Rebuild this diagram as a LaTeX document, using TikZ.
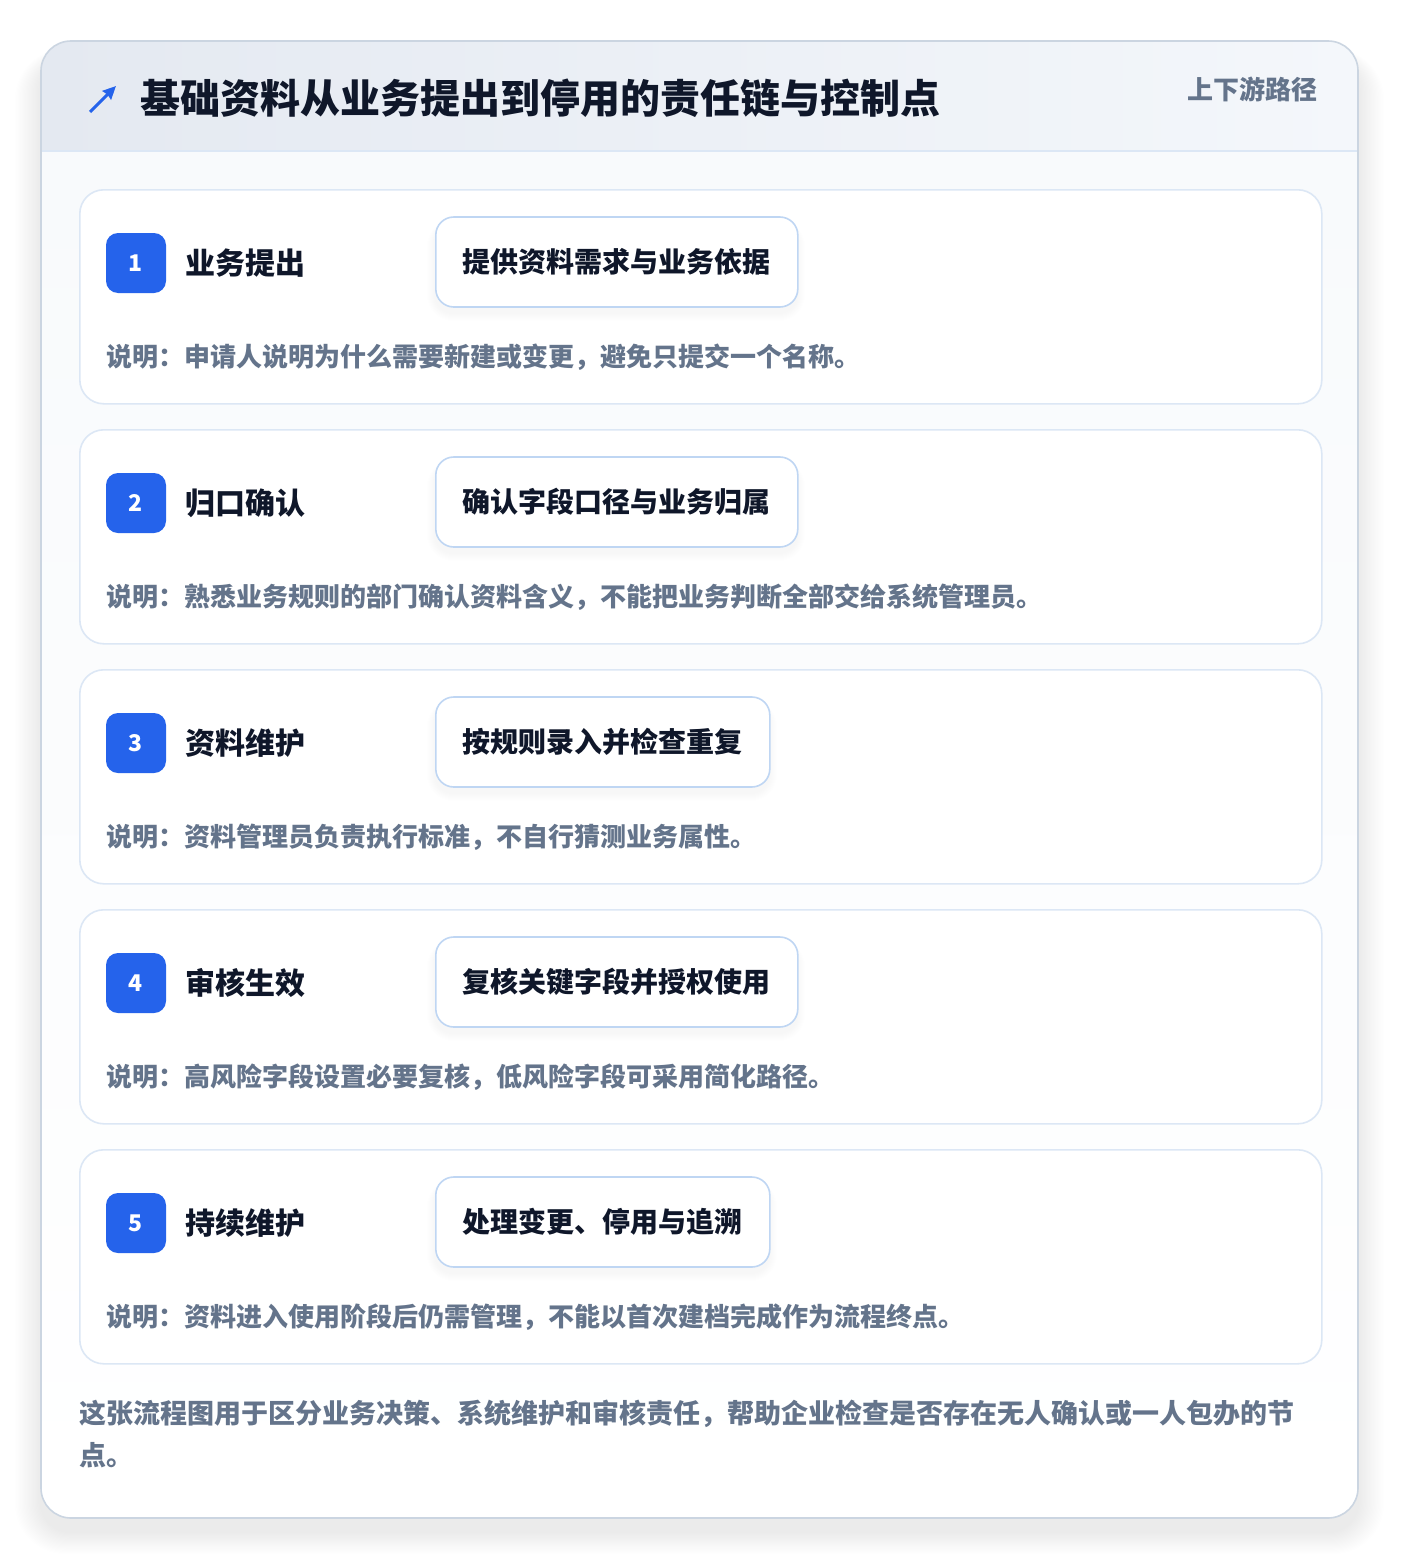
\documentclass[tikz,border=0pt]{standalone}
\usepackage{fontspec}
\setmainfont{Noto Sans CJK SC}
\usetikzlibrary{arrows.meta}
\definecolor{brand}{HTML}{2563EB}
\definecolor{ink}{HTML}{0F172A}
\definecolor{slate}{HTML}{64748B}
\definecolor{cardline}{HTML}{DCE7F5}
\definecolor{pillline}{HTML}{BFD6F3}
\definecolor{outline}{HTML}{CBD5E1}
\definecolor{bandL}{HTML}{E4E9F1}
\definecolor{bandR}{HTML}{F4F7FB}
\definecolor{bodyfill}{HTML}{F8FAFC}
\tikzset{
  card/.style={draw=cardline, line width=1.6pt, fill=white, rounded corners=24pt, inner sep=0pt},
  badge/.style={fill=brand, rounded corners=12pt, minimum width=60pt, minimum height=60pt, inner sep=0pt,
    text=white, font=\fontsize{23}{27}\selectfont\bfseries},
  steptitle/.style={anchor=west, inner sep=0pt, text=ink, font=\fontsize{30}{36}\selectfont\bfseries},
  pill/.style={draw=pillline, line width=1.6pt, fill=white, rounded corners=18pt, minimum height=90pt,
    inner sep=0pt, text=ink, font=\fontsize{28}{34}\selectfont\bfseries},
  desc/.style={anchor=west, inner sep=0pt, text=slate, font=\fontsize{26}{30}\selectfont\bfseries},
}
\begin{document}
\begin{tikzpicture}[x=1pt,y=-1pt]
\useasboundingbox (0,0) rectangle (1400,1560);
\fill[white] (0,0) rectangle (1400,1560);
% outer shadow
\foreach \i in {1,...,20}{
  \fill[black,opacity=0.005, rounded corners=30pt+\i pt] (41-\i*1.3,41+18-\i*0.5) rectangle (1358+\i*1.3,1518+14+\i*1.1);
}
% outer card
\begin{scope}
  \clip[rounded corners=30pt] (41,41) rectangle (1358,1518);
  \shade[top color=bodyfill, bottom color=white] (41,151) rectangle (1358,1518);
  \shade[left color=bandL, right color=bandR] (41,41) rectangle (1358,151);
  \draw[cardline, line width=1.6pt] (41,151) -- (1358,151);
\end{scope}
\draw[outline, line width=1.6pt, rounded corners=30pt] (41,41) rectangle (1358,1518);
% header
\coordinate (icA) at (90,112);
\coordinate (icB) at (116,86);
\draw[brand, line width=3pt, -{Stealth[length=13pt,width=12pt,inset=1pt]}] (icA) -- (icB);
\node[anchor=west, inner sep=0pt, text=ink, font=\fontsize{40}{48}\selectfont\bfseries] (title) at (140,98) {基础资料从业务提出到停用的责任链与控制点};
\node[anchor=east, inner sep=0pt, text=slate, font=\fontsize{26}{32}\selectfont\bfseries] (tag) at (1318,89) {上下游路径};
% steps
\foreach \n/\t/\p/\r/\d in {
  1/业务提出/提供资料需求与业务依据/797/说明：申请人说明为什么需要新建或变更，避免只提交一个名称。,
  2/归口确认/确认字段口径与业务归属/797/说明：熟悉业务规则的部门确认资料含义，不能把业务判断全部交给系统管理员。,
  3/资料维护/按规则录入并检查重复/769/说明：资料管理员负责执行标准，不自行猜测业务属性。,
  4/审核生效/复核关键字段并授权使用/797/说明：高风险字段设置必要复核，低风险字段可采用简化路径。,
  5/持续维护/处理变更、停用与追溯/769/说明：资料进入使用阶段后仍需管理，不能以首次建档完成作为流程终点。}{
  \pgfmathsetmacro{\top}{189+(\n-1)*240}
  \node[card, anchor=north west, minimum width=1242pt, minimum height=214pt] (card\n) at (79,\top) {};
  \node[badge] (badge\n) at (136,\top+74) {\n};
  \node[steptitle] (name\n) at (185,\top+74) {\t};
  \foreach \k in {1,...,8}{
    \fill[black,opacity=0.005, rounded corners=18pt+\k pt] (435-\k,\top+28+8-\k*0.6) rectangle (\r+\k,\top+118+6+\k);
  }
  \pgfmathsetmacro{\pw}{\r-435}
  \node[pill, anchor=west, minimum width=\pw pt] (pill\n) at (435,\top+73) {\p};
  \node[desc] (desc\n) at (106,\top+168) {\d};
}
% footer
\node[anchor=north west, inner sep=0pt, align=left, text=slate, font=\fontsize{27}{42}\selectfont\bfseries] (foot) at (79,1400) {这张流程图用于区分业务决策、系统维护和审核责任，帮助企业检查是否存在无人确认或一人包办的节\\点。};
\end{tikzpicture}
\end{document}
